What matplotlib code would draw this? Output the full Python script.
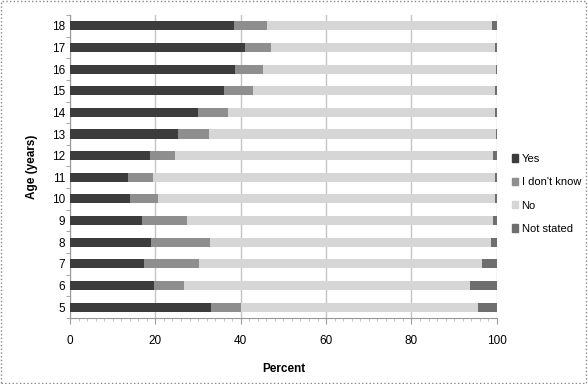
import matplotlib.pyplot as plt
import matplotlib.patches as mpatches
import numpy as np

plt.rcParams['font.family'] = ['Liberation Sans', 'DejaVu Sans']

ages = [5, 6, 7, 8, 9, 10, 11, 12, 13, 14, 15, 16, 17, 18]
yes = [33.1, 19.6, 17.3, 19.0, 16.9, 14.1, 13.7, 18.7, 25.3, 29.9, 36.0, 38.7, 40.9, 38.4]
dont_know = [6.9, 7.1, 13.0, 13.9, 10.4, 6.6, 5.8, 5.8, 7.3, 7.2, 6.8, 6.5, 6.3, 7.8]
no = [55.6, 67.0, 66.3, 65.8, 71.8, 78.8, 80.1, 74.7, 67.3, 62.5, 56.8, 54.7, 52.3, 52.7]
not_stated = [4.4, 6.3, 3.4, 1.3, 0.9, 0.5, 0.4, 0.8, 0.1, 0.4, 0.4, 0.1, 0.5, 1.1]

series = [("Yes", yes, "#3c3c3c"),
          ("I don't know", dont_know, "#8e8e8e"),
          ("No", no, "#d6d6d6"),
          ("Not stated", not_stated, "#6e6e6e")]

fig = plt.figure(figsize=(5.88, 3.84), dpi=100)
ax = fig.add_axes([0.119, 0.172, 0.726, 0.789])

y = np.arange(len(ages))
left = np.zeros(len(ages))
handles = []
for name, vals, col in series:
    ax.barh(y, vals, left=left, height=0.42, color=col, zorder=3)
    left += np.array(vals)
    handles.append(mpatches.Patch(color=col, label=name))

ax.set_xlim(0, 100)
ax.set_ylim(-0.5, len(ages) - 0.5)
ax.set_xticks([0, 20, 40, 60, 80, 100])
ax.set_xticks(np.arange(0, 101, 2), minor=True)
ax.set_yticks(y)
ax.set_yticklabels([str(a) for a in ages])
ax.set_yticks(np.arange(-0.5, len(ages), 1), minor=True)
ax.tick_params(axis='y', which='major', length=0, labelsize=8.5)
ax.tick_params(axis='y', which='minor', length=3, color='#999999')
ax.tick_params(axis='x', which='major', length=4, color='#999999', labelsize=8.5, pad=8)
ax.tick_params(axis='x', which='minor', length=2, color='#bbbbbb')
ax.grid(axis='x', color='#c4c4c4', linewidth=1, zorder=0)

for s in ['top', 'right']:
    ax.spines[s].set_visible(False)
for s in ['left', 'bottom']:
    ax.spines[s].set_color('#999999')

ax.set_xlabel('Percent', fontsize=8.5, fontweight='bold', labelpad=12)
ax.set_ylabel('Age (years)', fontsize=8.5, fontweight='bold', labelpad=10)

fig.legend(handles=handles, loc='center left', bbox_to_anchor=(0.853, 0.495),
           frameon=False, fontsize=8, handlelength=0.6, handleheight=0.6,
           handletextpad=0.3, labelspacing=1.2)

fig.patches.append(mpatches.Rectangle((0.002, 0.003), 0.995, 0.994, transform=fig.transFigure,
                                      fill=False, edgecolor='#888888', linestyle=':', linewidth=1))

fig.savefig('out.png', dpi=100)
